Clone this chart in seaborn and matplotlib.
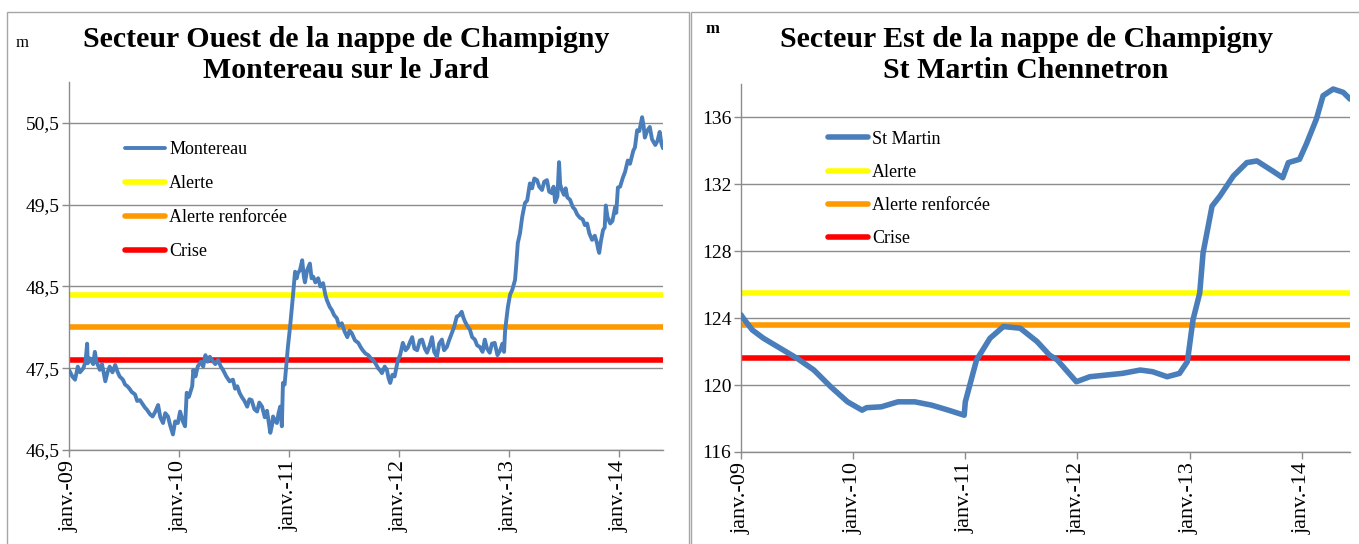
import numpy as np
import pandas as pd
import matplotlib
matplotlib.use("Agg")
import matplotlib.pyplot as plt
from matplotlib.patches import Rectangle
import seaborn as sns

# ---------------- data ----------------
# time in years since janv. 2009 (Montereau sur le Jard)
mont_t = [
    0.00, 0.03, 0.055, 0.08, 0.10, 0.13, 0.15, 0.165, 0.17, 0.19,
    0.22, 0.235, 0.25, 0.28, 0.30, 0.33, 0.35, 0.37, 0.395, 0.42,
    0.44, 0.46, 0.49, 0.51, 0.53, 0.55, 0.57, 0.60, 0.62, 0.645,
    0.67, 0.69, 0.71, 0.735, 0.76, 0.785, 0.81, 0.83, 0.855, 0.875,
    0.90, 0.92, 0.945, 0.965, 0.99, 1.01, 1.035, 1.055, 1.07, 1.09,
    1.12, 1.13, 1.15, 1.17, 1.20, 1.22, 1.24, 1.26, 1.28, 1.30,
    1.33, 1.355, 1.38, 1.40, 1.43, 1.46, 1.49, 1.51, 1.53, 1.55,
    1.57, 1.595, 1.62, 1.64, 1.66, 1.685, 1.71, 1.73, 1.755, 1.78,
    1.80, 1.83, 1.845, 1.855, 1.875, 1.89, 1.905, 1.92, 1.935, 1.945,
    1.96, 1.98, 1.99, 2.01, 2.035, 2.055, 2.07, 2.08, 2.10, 2.12,
    2.135, 2.145, 2.165, 2.19, 2.205, 2.22, 2.24, 2.265, 2.285, 2.31,
    2.33, 2.345, 2.37, 2.39, 2.41, 2.435, 2.455, 2.48, 2.505, 2.53,
    2.55, 2.57, 2.60, 2.63, 2.65, 2.67, 2.695, 2.72, 2.745, 2.765,
    2.79, 2.81, 2.83, 2.845, 2.87, 2.89, 2.905, 2.92, 2.94, 2.96,
    2.975, 2.99, 3.01, 3.035, 3.06, 3.08, 3.10, 3.12, 3.14, 3.165,
    3.19, 3.21, 3.235, 3.255, 3.28, 3.30, 3.32, 3.345, 3.365, 3.39,
    3.41, 3.435, 3.455, 3.48, 3.50, 3.525, 3.55, 3.57, 3.585, 3.60,
    3.62, 3.645, 3.665, 3.69, 3.71, 3.735, 3.76, 3.78, 3.80, 3.825,
    3.845, 3.87, 3.895, 3.92, 3.94, 3.955, 3.965, 3.99, 4.01, 4.03,
    4.055, 4.065, 4.08, 4.10, 4.12, 4.145, 4.165, 4.19, 4.21, 4.23,
    4.255, 4.275, 4.30, 4.32, 4.345, 4.365, 4.39, 4.405, 4.42, 4.44,
    4.455, 4.465, 4.48, 4.50, 4.515, 4.53, 4.555, 4.58, 4.60, 4.62,
    4.645, 4.67, 4.69, 4.71, 4.73, 4.755, 4.78, 4.80, 4.81, 4.82,
    4.835, 4.855, 4.87, 4.88, 4.895, 4.92, 4.94, 4.965, 4.975, 4.99,
    5.01, 5.035, 5.055, 5.08, 5.10, 5.13, 5.145, 5.165, 5.185, 5.21,
    5.225, 5.235, 5.255, 5.28, 5.30, 5.33, 5.35, 5.37, 5.385, 5.40,
]
mont_v = [
    47.48, 47.40, 47.36, 47.52, 47.45, 47.50, 47.58, 47.80, 47.56, 47.62,
    47.55, 47.70, 47.58, 47.48, 47.55, 47.34, 47.45, 47.52, 47.45, 47.54,
    47.46, 47.40, 47.36, 47.30, 47.28, 47.25, 47.21, 47.18, 47.10, 47.11,
    47.06, 47.02, 46.99, 46.94, 46.91, 46.97, 47.05, 46.90, 46.83, 46.95,
    46.91, 46.80, 46.69, 46.85, 46.83, 46.97, 46.85, 46.79, 47.20, 47.15,
    47.28, 47.48, 47.40, 47.52, 47.58, 47.52, 47.66, 47.58, 47.64, 47.60,
    47.55, 47.60, 47.52, 47.48, 47.40, 47.34, 47.36, 47.25, 47.28, 47.20,
    47.15, 47.10, 47.03, 47.12, 47.11, 47.00, 46.97, 47.08, 47.03, 46.90,
    46.98, 46.71, 46.80, 46.91, 46.85, 46.83, 46.95, 47.03, 46.79, 47.32,
    47.30, 47.60, 47.76, 48.01, 48.37, 48.68, 48.60, 48.66, 48.70, 48.82,
    48.62, 48.55, 48.70, 48.78, 48.60, 48.62, 48.55, 48.60, 48.50, 48.54,
    48.40, 48.33, 48.25, 48.21, 48.15, 48.11, 48.02, 48.05, 47.95, 47.88,
    47.96, 47.93, 47.84, 47.81, 47.76, 47.72, 47.68, 47.66, 47.62, 47.60,
    47.55, 47.50, 47.47, 47.44, 47.52, 47.48, 47.38, 47.32, 47.42, 47.40,
    47.50, 47.60, 47.66, 47.81, 47.72, 47.75, 47.82, 47.88, 47.74, 47.72,
    47.84, 47.85, 47.74, 47.69, 47.78, 47.88, 47.70, 47.64, 47.80, 47.85,
    47.72, 47.76, 47.84, 47.93, 48.00, 48.13, 48.15, 48.19, 48.12, 48.07,
    48.02, 47.97, 47.88, 47.85, 47.78, 47.76, 47.70, 47.85, 47.74, 47.69,
    47.80, 47.81, 47.66, 47.72, 47.80, 47.70, 47.97, 48.25, 48.40, 48.46,
    48.58, 48.75, 49.03, 49.15, 49.35, 49.52, 49.55, 49.76, 49.70, 49.82,
    49.80, 49.72, 49.68, 49.78, 49.80, 49.66, 49.64, 49.72, 49.53, 49.60,
    50.02, 49.75, 49.68, 49.62, 49.70, 49.59, 49.56, 49.47, 49.44, 49.38,
    49.34, 49.32, 49.25, 49.27, 49.15, 49.07, 49.12, 49.03, 48.96, 48.91,
    49.05, 49.19, 49.22, 49.49, 49.35, 49.27, 49.30, 49.47, 49.40, 49.71,
    49.72, 49.83, 49.90, 50.04, 50.00, 50.16, 50.20, 50.41, 50.40, 50.57,
    50.45, 50.32, 50.40, 50.45, 50.30, 50.23, 50.28, 50.39, 50.25, 50.19,
]

# St Martin Chennetron
stm_t = [0.00, 0.02, 0.10, 0.20, 0.35, 0.50, 0.65, 0.80, 0.95, 1.08, 1.12, 1.25, 1.40, 1.55,
         1.70, 1.85, 1.99, 2.00, 2.02, 2.10, 2.22, 2.34, 2.49, 2.64, 2.75, 2.82, 2.99, 3.11,
         3.40, 3.56, 3.67, 3.80, 3.91, 3.98, 4.03, 4.09, 4.12, 4.16, 4.20, 4.27, 4.39, 4.51,
         4.60, 4.74, 4.83, 4.88, 4.98, 5.04, 5.13, 5.19, 5.28, 5.37, 5.43]
stm_v = [124.2, 124.0, 123.3, 122.8, 122.2, 121.6, 120.9, 119.9, 119.0, 118.5, 118.65, 118.7, 119.0, 119.0,
         118.8, 118.5, 118.2, 119.0, 119.5, 121.5, 122.8, 123.5, 123.4, 122.6, 121.8, 121.5, 120.2, 120.5,
         120.7, 120.9, 120.8, 120.5, 120.7, 121.4, 123.9, 125.5, 127.9, 129.3, 130.7, 131.3, 132.5, 133.3,
         133.4, 132.8, 132.4, 133.3, 133.5, 134.4, 135.9, 137.3, 137.7, 137.5, 137.1]

mont_thresholds = [48.4, 48.0, 47.6]
stm_thresholds = [125.5, 123.6, 121.6]
threshold_labels = ["Alerte", "Alerte renforcée", "Crise"]
threshold_colors = ["#FFFF00", "#FF9900", "#FF0000"]

tick_years = [0, 1, 2, 3, 4, 5]
tick_labels = ["janv.-09", "janv.-10", "janv.-11", "janv.-12", "janv.-13", "janv.-14"]

mont_yticks = [46.5, 47.5, 48.5, 49.5, 50.5]
mont_yticklabels = ["46,5", "47,5", "48,5", "49,5", "50,5"]
stm_yticks = [116, 120, 124, 128, 132, 136]

# ---------------- style ----------------
sns.set_style("white")
plt.rcParams["font.family"] = ["Liberation Serif", "DejaVu Serif"]
plt.rcParams["text.color"] = "black"
plt.rcParams["xtick.labelcolor"] = "black"
plt.rcParams["ytick.labelcolor"] = "black"

W, H = 1359, 544
fig = plt.figure(figsize=(W / 100, H / 100), dpi=100)

def fx(px):
    return px / W

def fy(py):
    return 1 - py / H

# panel frames
for x0, x1 in [(7, 689), (691, 1400)]:
    fig.patches.append(Rectangle((fx(x0), -0.02), fx(x1 - x0), fy(12) + 0.02,
                                 transform=fig.transFigure, fill=False,
                                 edgecolor="#A6A6A6", lw=1.0, zorder=0))

ax1 = fig.add_axes([fx(69), fy(450), fx(663 - 69), (450 - 82) / H])
ax2 = fig.add_axes([fx(741), fy(452), fx(1350 - 741), (452 - 84) / H])

BLUE = "#4A7EBB"
GRID = "#8C8C8C"

def style_axis(ax, xmax, ylim, yticks, yticklabels):
    ax.set_xlim(0, xmax)
    ax.set_ylim(*ylim)
    ax.set_xticks(tick_years)
    ax.set_xticklabels(tick_labels, rotation=90, fontsize=16)
    ax.set_yticks(yticks)
    ax.set_yticklabels(yticklabels, fontsize=14)
    ax.yaxis.grid(True, color=GRID, lw=1.0)
    ax.xaxis.grid(False)
    ax.set_axisbelow(True)
    for s in ["top", "right"]:
        ax.spines[s].set_visible(False)
    for s in ["left", "bottom"]:
        ax.spines[s].set_color(GRID)
        ax.spines[s].set_linewidth(1.0)
    ax.tick_params(axis="both", which="major", length=5, width=1.0, color=GRID,
                   labelcolor="black", direction="out", pad=2, bottom=True, left=True)
    ax.set_xlabel("")
    ax.set_ylabel("")
    ax.patch.set_alpha(0)

# left panel
df1 = pd.DataFrame({"t": mont_t, "v": mont_v})
sns.lineplot(data=df1, x="t", y="v", ax=ax1, color=BLUE, lw=2.8, estimator=None,
             sort=False, label="Montereau", zorder=3)
for val, lab, col in zip(mont_thresholds, threshold_labels, threshold_colors):
    ax1.axhline(val, color=col, lw=4, label=lab, zorder=2)
style_axis(ax1, 5.40, (46.5, 51.0), mont_yticks, mont_yticklabels)
ax1.legend(loc="upper left", bbox_to_anchor=(0.094, 0.84), frameon=False, fontsize=13,
           handlelength=2.2, handletextpad=0.25, labelspacing=0.95, borderpad=0,
           borderaxespad=0)

# right panel
df2 = pd.DataFrame({"t": stm_t, "v": stm_v})
sns.lineplot(data=df2, x="t", y="v", ax=ax2, color=BLUE, lw=4, estimator=None,
             sort=False, label="St Martin", zorder=3)
for val, lab, col in zip(stm_thresholds, threshold_labels, threshold_colors):
    ax2.axhline(val, color=col, lw=4, label=lab, zorder=2)
style_axis(ax2, 5.43, (116, 138), stm_yticks, [str(v) for v in stm_yticks])
ax2.legend(loc="upper left", bbox_to_anchor=(0.143, 0.873), frameon=False, fontsize=13,
           handlelength=2.2, handletextpad=0.25, labelspacing=0.9, borderpad=0,
           borderaxespad=0)

# titles
fig.text(fx(346), fy(55), "Secteur Ouest de la nappe de Champigny\nMontereau sur le Jard",
         ha="center", va="center", fontsize=21.5, fontweight="bold", linespacing=1.15,
         color="black")
fig.text(fx(1026), fy(55), "Secteur Est de la nappe de Champigny\nSt Martin Chennetron",
         ha="center", va="center", fontsize=21.5, fontweight="bold", linespacing=1.15,
         color="black")

# unit labels
fig.text(fx(22), fy(43), "m", ha="center", va="center", fontsize=12, color="black")
fig.text(fx(712), fy(29), "m", ha="center", va="center", fontsize=12, fontweight="bold",
         color="black")

fig.savefig("out.png", dpi=100)
